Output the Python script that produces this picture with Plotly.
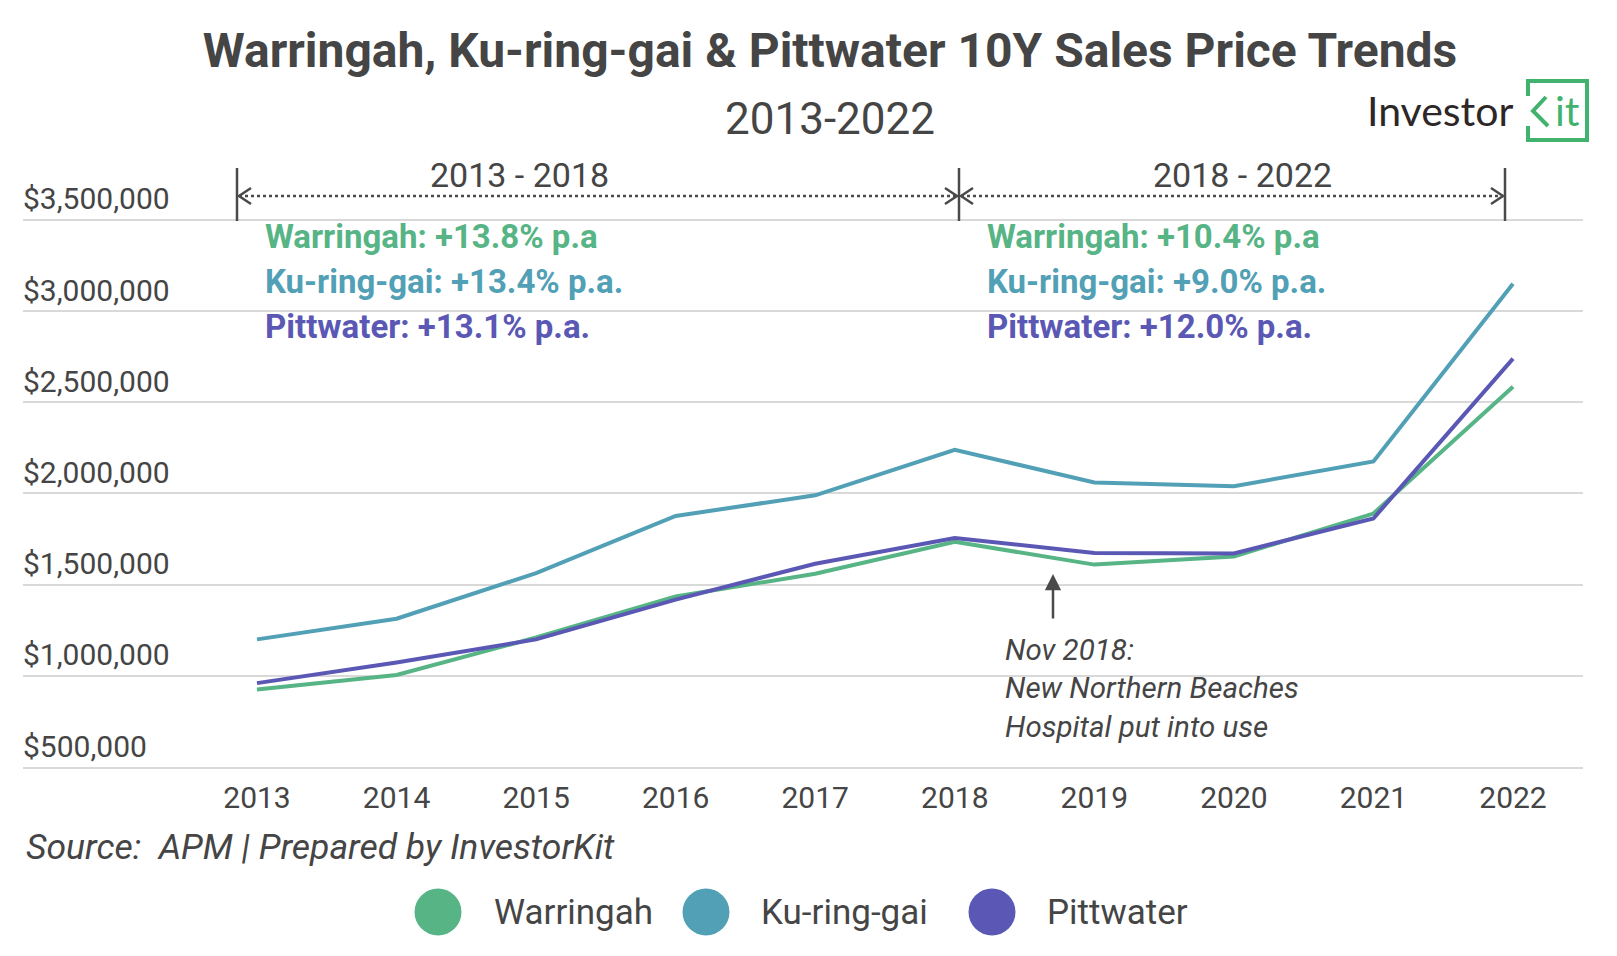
import plotly.graph_objects as go

# ---------------- data ----------------
years = [2013, 2014, 2015, 2016, 2017, 2018, 2019, 2020, 2021, 2022]
warringah = [925000, 1005000, 1210000, 1435000, 1560000, 1735000, 1610000, 1655000, 1890000, 2585000]
kuringgai = [1200000, 1313000, 1563000, 1877000, 1990000, 2240000, 2060000, 2040000, 2176000, 3150000]
pittwater = [960000, 1073000, 1200000, 1418000, 1615000, 1756000, 1674000, 1671000, 1863000, 2740000]

series_names = ["Warringah", "Ku-ring-gai", "Pittwater"]
series_values = [warringah, kuringgai, pittwater]
series_colors = ["#56b485", "#52a0b6", "#5a58b4"]

y_tick_vals = [500000, 1000000, 1500000, 2000000, 2500000, 3000000, 3500000]
y_tick_text = ["$500,000", "$1,000,000", "$1,500,000", "$2,000,000", "$2,500,000", "$3,000,000", "$3,500,000"]

growth_2013_2018 = ["Warringah: +13.8% p.a", "Ku-ring-gai: +13.4% p.a.", "Pittwater: +13.1% p.a."]
growth_2018_2022 = ["Warringah: +10.4% p.a", "Ku-ring-gai: +9.0% p.a.", "Pittwater: +12.0% p.a."]

# ---------------- layout helpers (pixel -> paper) ----------------
W, H = 1617, 956
ML, MR, MT, MB = 23, 34, 160, 189
PW = W - ML - MR
PH = H - MT - MB
def px(x):
    return (x - ML) / PW
def py(y):
    return (H - MB - y) / PH

TXT = "#454545"
FONT = "Roboto"

fig = go.Figure()
for name, vals, col in zip(series_names, series_values, series_colors):
    fig.add_trace(go.Scatter(x=years, y=vals, mode="lines", name=name,
                             line=dict(color=col, width=4), showlegend=False))

fig.update_layout(
    width=W, height=H,
    margin=dict(l=ML, r=MR, t=MT, b=MB),
    paper_bgcolor="white", plot_bgcolor="white",
    font=dict(family=FONT, color=TXT),
    title=dict(text="<b>Warringah, Ku-ring-gai & Pittwater 10Y Sales Price Trends</b>",
               x=830 / W, xanchor="center", y=1 - 50 / H, yanchor="middle", yref="container",
               font=dict(size=48, color=TXT, family=FONT)),
    xaxis=dict(range=[2011.3233, 2022.5016], tickvals=years, ticktext=[str(y) for y in years],
               showgrid=False, zeroline=False, showline=True, linecolor="#d9d9d9", linewidth=2,
               ticks="", tickfont=dict(size=30, color=TXT), ticklabelstandoff=3),
    yaxis=dict(range=[500000, 3829000], tickvals=y_tick_vals, ticktext=y_tick_text,
               showgrid=True, gridcolor="#d9d9d9", gridwidth=2, zeroline=False,
               ticks="", ticklabelposition="inside top", ticklabelstandoff=-3,
               tickfont=dict(size=30, color=TXT)),
)

ann = []
shapes = []

# subtitle
ann.append(dict(text="2013-2022", xref="paper", yref="paper", x=px(830), y=py(119),
                xanchor="center", yanchor="middle", showarrow=False,
                font=dict(size=44, color=TXT)))

# period brackets
bars = [237, 959, 1505]
for bx in bars:
    shapes.append(dict(type="line", xref="paper", yref="paper", x0=px(bx), x1=px(bx),
                       y0=py(168), y1=py(221), line=dict(color="#4a4a4a", width=2.5)))
yl = 196
for a, b in [(237, 959), (959, 1505)]:
    shapes.append(dict(type="line", xref="paper", yref="paper", x0=px(a + 2), x1=px(b - 2),
                       y0=py(yl), y1=py(yl), line=dict(color="#4a4a4a", width=2.5, dash="dot")))
    # left chevron "<"
    shapes.append(dict(type="path", xref="paper", yref="paper",
                       path="M {} {} L {} {} L {} {}".format(px(a + 14), py(yl - 8), px(a + 2), py(yl), px(a + 14), py(yl + 8)),
                       line=dict(color="#4a4a4a", width=2.5)))
    # right chevron ">"
    shapes.append(dict(type="path", xref="paper", yref="paper",
                       path="M {} {} L {} {} L {} {}".format(px(b - 14), py(yl - 8), px(b - 2), py(yl), px(b - 14), py(yl + 8)),
                       line=dict(color="#4a4a4a", width=2.5)))
ann.append(dict(text="2013 - 2018", xref="paper", yref="paper", x=px(519), y=py(175),
                xanchor="center", yanchor="middle", showarrow=False, font=dict(size=34, color=TXT)))
ann.append(dict(text="2018 - 2022", xref="paper", yref="paper", x=px(1242), y=py(175),
                xanchor="center", yanchor="middle", showarrow=False, font=dict(size=34, color=TXT)))

# growth annotations
line_ys = [236, 281, 326]
for texts, x0 in [(growth_2013_2018, 263), (growth_2018_2022, 985)]:
    for t, yy, col in zip(texts, line_ys, series_colors):
        ann.append(dict(text="<b>" + t + "</b>", xref="paper", yref="paper", x=px(x0), y=py(yy),
                        xanchor="left", yanchor="middle", showarrow=False,
                        font=dict(size=33, color=col)))

# Nov 2018 arrow + note
ann.append(dict(text="", xref="paper", yref="paper", x=px(1053), y=py(574), ax=0, ay=46,
                axref="pixel", ayref="pixel", showarrow=True, arrowhead=2, arrowsize=1.3,
                arrowwidth=2.5, arrowcolor="#4a4a4a"))
ann.append(dict(text="<i>Nov 2018:<br>New Northern Beaches<br>Hospital put into use</i>",
                xref="paper", yref="paper", x=px(1003), y=py(688), xanchor="left", yanchor="middle",
                align="left", showarrow=False, font=dict(size=29.5, color=TXT)))

# source
ann.append(dict(text="<i>Source:  APM | Prepared by InvestorKit</i>", xref="paper", yref="paper",
                x=px(24), y=py(847), xanchor="left", yanchor="middle", showarrow=False,
                font=dict(size=35.5, color=TXT)))

# custom legend
leg_cx = [438, 706, 992]
leg_tx = [492, 759, 1045]
leg_y = 912
r = 23.5
for name, col, cx, tx in zip(series_names, series_colors, leg_cx, leg_tx):
    shapes.append(dict(type="circle", xref="paper", yref="paper",
                       x0=px(cx - r), x1=px(cx + r), y0=py(leg_y + r), y1=py(leg_y - r),
                       fillcolor=col, line=dict(width=0)))
    ann.append(dict(text=name, xref="paper", yref="paper", x=px(tx), y=py(leg_y),
                    xanchor="left", yanchor="middle", showarrow=False, font=dict(size=35, color=TXT)))

# logo
LG = "#41b36f"
ann.append(dict(text="Investor", xref="paper", yref="paper", x=px(1365), y=py(110),
                xanchor="left", yanchor="middle", showarrow=False,
                font=dict(size=41, color="#2e2727", family="Lato")))
ann.append(dict(text="it", xref="paper", yref="paper", x=px(1553), y=py(110),
                xanchor="left", yanchor="middle", showarrow=False,
                font=dict(size=41, color=LG, family="Lato")))
shapes.append(dict(type="path", xref="paper", yref="paper",
                   path="M {} {} L {} {} L {} {} L {} {} L {} {} L {} {}".format(
                       px(1528), py(96), px(1528), py(81), px(1587), py(81),
                       px(1587), py(140), px(1528), py(140), px(1528), py(126)),
                   line=dict(color=LG, width=4)))
shapes.append(dict(type="path", xref="paper", yref="paper",
                   path="M {} {} L {} {} L {} {}".format(px(1546), py(97), px(1533), py(111), px(1548), py(126)),
                   line=dict(color=LG, width=4)))

fig.update_layout(annotations=ann, shapes=shapes)
fig.write_html("out.html")
